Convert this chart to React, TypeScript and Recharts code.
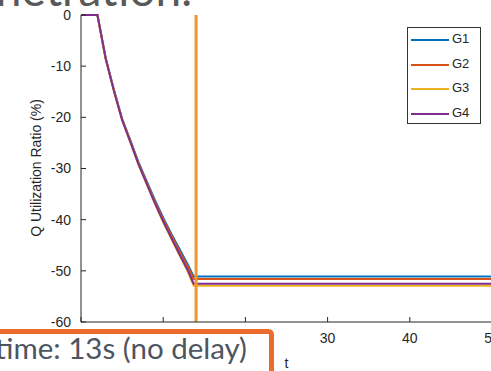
import { Line, LineChart, ReferenceLine, XAxis, YAxis } from 'recharts';

// time axis (s) and the four generator traces (%)
const times = [0, 2, 3, 4, 5, 6, 7, 8, 9, 10, 11, 12, 13, 13.7, 50];
const g1 = [0, 0, -8.4, -14.6, -20.3, -24.5, -28.8, -32.5, -36.2, -39.6, -42.8, -45.8, -48.8, -51.1, -51.1];
const g2 = [0, 0, -8.5, -14.7, -20.4, -24.6, -29.0, -32.7, -36.5, -39.9, -43.1, -46.2, -49.2, -51.6, -51.6];
const g3 = [0, 0, -8.5, -14.8, -20.5, -24.9, -29.3, -33.1, -36.9, -40.5, -43.8, -47.0, -50.2, -52.9, -52.9];
const g4 = [0, 0, -8.5, -14.8, -20.5, -24.8, -29.2, -33.0, -36.8, -40.3, -43.6, -46.8, -49.9, -52.5, -52.5];

const seriesNames = ['G1', 'G2', 'G3', 'G4'];
const seriesColors = ['#0072BD', '#D95319', '#EDB120', '#7E2F8E'];

const xTicks = [0, 10, 20, 30, 40, 50];
const yTicks = [-60, -50, -40, -30, -20, -10, 0];
const markerTime = 14;

const rows = times.map((t, i) => ({ t, G1: g1[i], G2: g2[i], G3: g3[i], G4: g4[i] }));

const axisFont = { fill: '#262626', fontSize: 14, fontFamily: '"Liberation Sans", Arial, sans-serif' };
const slideFont = 'Lato, "Open Sans", sans-serif';

function LegendBox() {
  return (
    <div
      style={{
        position: 'absolute',
        left: 407,
        top: 27,
        width: 74,
        height: 97,
        boxSizing: 'border-box',
        border: '1px solid #333',
        background: '#fff',
        fontFamily: axisFont.fontFamily,
        fontSize: 13,
        color: '#262626',
      }}
    >
      {seriesNames.map((name, i) => (
        <div key={name} style={{ position: 'absolute', left: 0, top: 3 + i * 24.5, height: 16, width: 72 }}>
          <div style={{ position: 'absolute', left: 3, top: 8, width: 38, height: 2, background: seriesColors[i] }} />
          <span style={{ position: 'absolute', left: 44, top: 0, lineHeight: '15px' }}>{name}</span>
        </div>
      ))}
    </div>
  );
}

export default function App() {
  return (
    <div
      style={{
        position: 'fixed',
        left: 0,
        top: 0,
        width: 491,
        height: 371,
        overflow: 'hidden',
        background: '#fff',
      }}
    >
      <LineChart width={492} height={371} data={rows} margin={{ top: 15, right: 0, bottom: 0, left: 0 }}>
        <XAxis
          dataKey="t"
          type="number"
          domain={[0, 50]}
          ticks={xTicks}
          interval={0}
          height={49}
          tickSize={-5}
          tickMargin={16}
          tick={axisFont}
          stroke="#262626"
          label={{ value: 't', position: 'insideBottom', offset: 3, style: axisFont }}
        />
        <XAxis
          xAxisId="top"
          orientation="top"
          type="number"
          domain={[0, 50]}
          ticks={xTicks}
          interval={0}
          height={0}
          tickSize={-5}
          tick={false}
          stroke="#262626"
          allowDataOverflow
        />
        <YAxis
          type="number"
          domain={[-60, 0]}
          ticks={yTicks}
          interval={0}
          width={81}
          tickSize={-5}
          tickMargin={15}
          tick={axisFont}
          stroke="#262626"
        />
        <YAxis
          yAxisId="right"
          orientation="right"
          type="number"
          domain={[-60, 0]}
          ticks={yTicks}
          interval={0}
          width={0}
          tickSize={-5}
          tick={false}
          stroke="#262626"
          allowDataOverflow
        />
        {seriesNames.map((name, i) => (
          <Line
            key={name}
            type="linear"
            dataKey={name}
            stroke={seriesColors[i]}
            strokeWidth={2}
            dot={false}
            isAnimationActive={false}
          />
        ))}
        <ReferenceLine x={markerTime} stroke="#F2962B" strokeWidth={3} />
      </LineChart>

      <LegendBox />

      <svg
        width={491}
        height={371}
        style={{ position: 'absolute', left: 0, top: 0, pointerEvents: 'none' }}
      >
        <text
          transform="translate(36,168) rotate(-90)"
          textAnchor="middle"
          dominantBaseline="central"
          style={axisFont}
        >
          Q Utilization Ratio (%)
        </text>
        <text x={192} y={6} textAnchor="end" fontSize={46} fill="#595959" fontFamily={slideFont}>
          Penetration.
        </text>
        <rect x={-10} y={331.5} width={281.5} height={60} rx={3} fill="#fff" stroke="#EC6A2C" strokeWidth={5} />
        <text x={247} y={359} textAnchor="end" fontSize={29.5} fill="#4D5560" fontFamily={slideFont}>
          Settling time: 13s (no delay)
        </text>
      </svg>
    </div>
  );
}
